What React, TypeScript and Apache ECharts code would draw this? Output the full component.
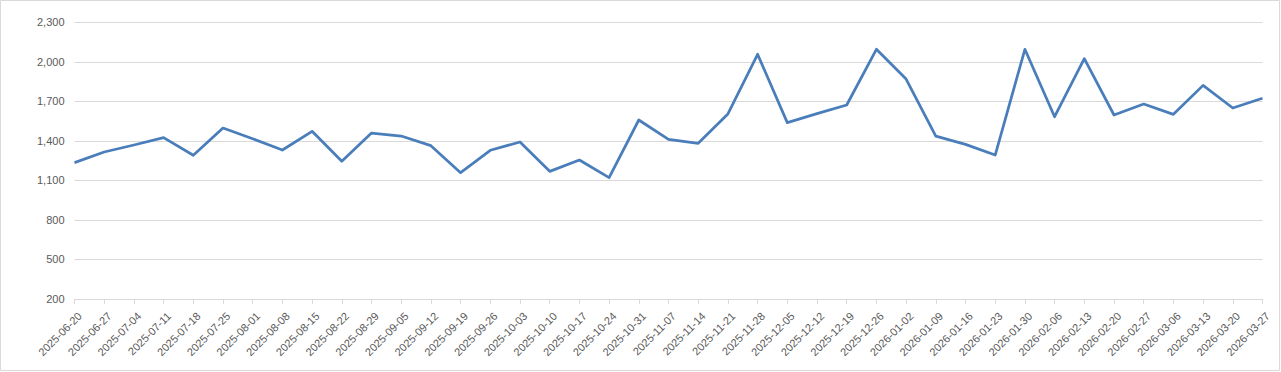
import React, { useEffect, useRef } from "react";
import * as echarts from "echarts";

const categories = [
  "2025-06-20", "2025-06-27", "2025-07-04", "2025-07-11", "2025-07-18", "2025-07-25",
  "2025-08-01", "2025-08-08", "2025-08-15", "2025-08-22", "2025-08-29", "2025-09-05",
  "2025-09-12", "2025-09-19", "2025-09-26", "2025-10-03", "2025-10-10", "2025-10-17",
  "2025-10-24", "2025-10-31", "2025-11-07", "2025-11-14", "2025-11-21", "2025-11-28",
  "2025-12-05", "2025-12-12", "2025-12-19", "2025-12-26", "2026-01-02", "2026-01-09",
  "2026-01-16", "2026-01-23", "2026-01-30", "2026-02-06", "2026-02-13", "2026-02-20",
  "2026-02-27", "2026-03-06", "2026-03-13", "2026-03-20", "2026-03-27",
];

const values = [
  1234, 1315, 1368, 1424, 1290, 1497, 1416, 1330, 1472, 1244, 1459, 1436,
  1363, 1158, 1328, 1391, 1168, 1254, 1120, 1558, 1411, 1381, 1604, 2057,
  1538, 1606, 1672, 2095, 1869, 1436, 1373, 1292, 2095, 1583, 2024, 1596,
  1679, 1601, 1821, 1649, 1723,
];

const yMin = 200;
const yMax = 2300;
const yInterval = 300;

export default function App() {
  const ref = useRef<HTMLDivElement>(null);
  useEffect(() => {
    if (!ref.current) return;
    const chart = echarts.init(ref.current, undefined, { renderer: "svg" });
    chart.setOption({
      animation: false,
      backgroundColor: "#ffffff",
      textStyle: { fontFamily: "Liberation Sans, Arial, sans-serif" },
      grid: { left: 74.5, right: 18.5, top: 22.3, bottom: 73.2, containLabel: false },
      graphic: [
        {
          type: "rect",
          shape: { x: 0.5, y: 0.5, width: 1279, height: 370 },
          style: { fill: "none", stroke: "#d9d9d9", lineWidth: 1 },
          silent: true,
        },
      ],
      xAxis: {
        type: "category",
        data: categories,
        boundaryGap: false,
        axisLine: { lineStyle: { color: "#d9d9d9", width: 1 } },
        axisTick: { show: true, alignWithLabel: true, length: 5, lineStyle: { color: "#d9d9d9" } },
        axisLabel: {
          interval: 0,
          rotate: 45,
          color: "#595959",
          fontSize: 11,
          margin: 10,
          verticalAlign: "top",
          padding: [2, 0, 0, 0],
        },
        splitLine: { show: false },
      },
      yAxis: {
        type: "value",
        min: yMin,
        max: yMax,
        interval: yInterval,
        axisLine: { show: false },
        axisTick: { show: false },
        axisLabel: {
          color: "#595959",
          fontSize: 11,
          margin: 10,
          formatter: (v: number) => v.toLocaleString("en-US"),
        },
        splitLine: { lineStyle: { color: "#d9d9d9", width: 1 } },
      },
      series: [
        {
          type: "line",
          data: values,
          symbol: "none",
          lineStyle: { color: "#4a7ebb", width: 2.75, join: "round" },
          itemStyle: { color: "#4a7ebb" },
        },
      ],
    });
    return () => chart.dispose();
  }, []);
  return (
    <div
      ref={ref}
      style={{ position: "fixed", left: 0, top: 0, width: 1281, height: 372 }}
    />
  );
}
